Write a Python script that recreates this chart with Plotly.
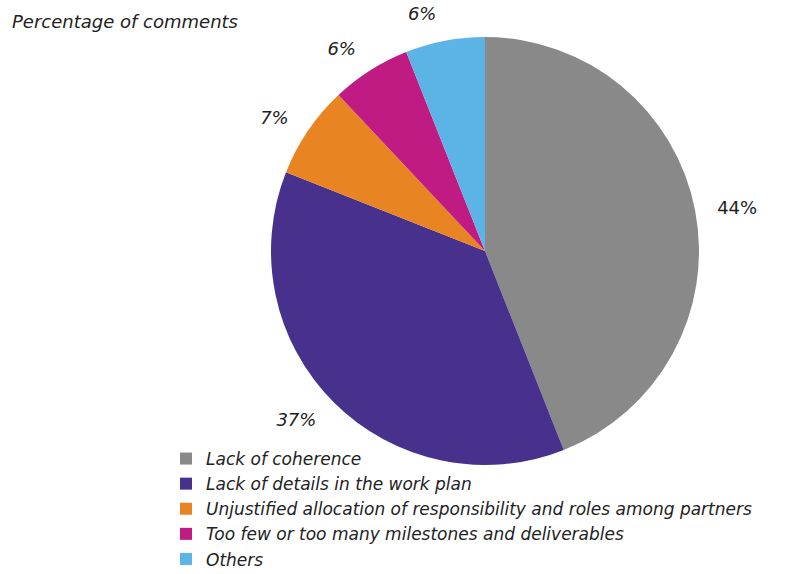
import plotly.graph_objects as go

# Share of comments per issue type (%)
categories = [
    "Lack of coherence",
    "Lack of details in the work plan",
    "Unjustified allocation of responsibility and roles among partners",
    "Too few or too many milestones and deliverables",
    "Others",
]
shares = [44, 37, 7, 6, 6]
colors = ["#898989", "#47318c", "#e88422", "#c01b82", "#5bb4e5"]
label_styles = ["normal", "italic", "italic", "italic", "italic"]

W, H = 785, 574
cx, cy, r = 485, 251, 214
r_text = 231  # radius used to place the outside percentage labels
FONT = "DejaVu Sans"
INK = "#222222"


def domain(radius):
    return dict(x=[(cx - radius) / W, (cx + radius) / W],
                y=[1 - (cy + radius) / H, 1 - (cy - radius) / H])


fig = go.Figure()

# coloured slices
fig.add_trace(go.Pie(
    labels=categories,
    values=shares,
    sort=False,
    direction="clockwise",
    rotation=0,
    marker=dict(colors=colors, line=dict(width=0)),
    textinfo="none",
    hoverinfo="label+percent",
    domain=domain(r),
    automargin=False,
))

# percentage labels set slightly further out from the slices
fig.add_trace(go.Pie(
    labels=categories,
    values=shares,
    sort=False,
    direction="clockwise",
    rotation=0,
    marker=dict(colors=["rgba(0,0,0,0)"] * len(shares), line=dict(width=0)),
    textposition="outside",
    texttemplate="%{value}%",
    outsidetextfont=dict(family=FONT, size=18, color=INK, style=label_styles),
    hoverinfo="skip",
    showlegend=False,
    domain=domain(r_text),
    automargin=False,
))

fig.update_layout(
    width=W,
    height=H,
    margin=dict(l=0, r=0, t=0, b=0, autoexpand=False),
    paper_bgcolor="white",
    plot_bgcolor="white",
    font=dict(family=FONT, color=INK),
    title=dict(
        text="Percentage of comments",
        x=12 / W, xanchor="left",
        y=1 - 15 / H, yanchor="top",
        font=dict(family=FONT, size=18, style="italic", color=INK),
    ),
    legend=dict(
        x=166 / W, xanchor="left",
        y=1 - 441 / H, yanchor="top",
        font=dict(family=FONT, size=17, style="italic", color=INK),
        itemwidth=30,
        tracegroupgap=0,
        bgcolor="rgba(0,0,0,0)",
    ),
)

fig.write_html("out.html")
